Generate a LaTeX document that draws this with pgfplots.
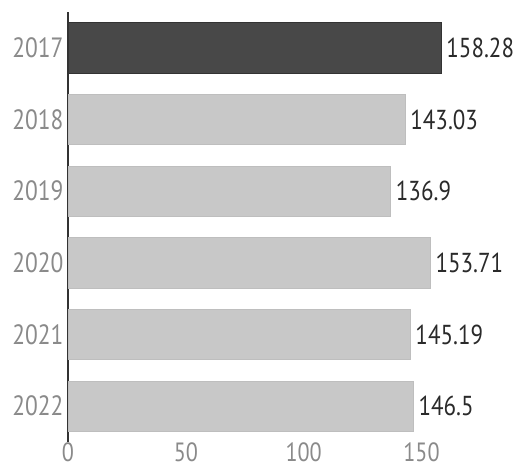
\documentclass[border=0pt]{standalone}
\usepackage{fontspec}
\setmainfont{PT Sans}[FakeStretch=0.84]
\usepackage{pgfplots}
\pgfplotsset{compat=1.18}
\definecolor{darkbar}{HTML}{484848}
\definecolor{darkedge}{HTML}{333333}
\definecolor{lightbar}{HTML}{C8C8C8}
\definecolor{lightedge}{HTML}{BEBEBE}
\definecolor{ticktxt}{HTML}{8A8A8A}
\definecolor{valtxt}{HTML}{2A2A2A}
\begin{document}
\begin{tikzpicture}
\path[use as bounding box] (0,0) rectangle (517bp,471bp);
\begin{axis}[
  at={(68bp,29bp)}, anchor=south west,
  scale only axis,
  width=447.8bp, height=430bp,
  xmin=0, xmax=190,
  ymin=-0.5, ymax=5.5,
  y dir=reverse,
  axis lines*=left,
  x axis line style={draw=none},
  y axis line style={draw=black!80, line width=1.2pt},
  major tick length=0pt,
  xtick={0,50,100,150},
  ytick={0,1,2,3,4,5},
  yticklabels={2017,2018,2019,2020,2021,2022},
  /pgf/number format/assume math mode=true,
  yticklabel style={font=\fontsize{28}{30}\selectfont, text=ticktxt, xshift=-1bp},
  xticklabel style={font=\fontsize{26.5}{28}\selectfont, text=ticktxt, yshift=3bp},
  clip=false,
  nodes near coords,
  point meta=explicit symbolic,
  every node near coord/.append style={anchor=west, inner sep=0bp, xshift=5bp, font=\fontsize{27.5}{30}\selectfont, text=valtxt},
]
\addplot[xbar, bar width=0.7, bar shift=0pt, fill=darkbar, draw=darkedge, line width=0.8pt]
  coordinates {(158.28,0) [158.28]};
\addplot[xbar, bar width=0.7, bar shift=0pt, fill=lightbar, draw=lightedge, line width=0.6pt]
  coordinates {(143.03,1) [143.03] (136.9,2) [136.9] (153.71,3) [153.71] (145.19,4) [145.19] (146.5,5) [146.5]};
\end{axis}
\end{tikzpicture}
\end{document}
